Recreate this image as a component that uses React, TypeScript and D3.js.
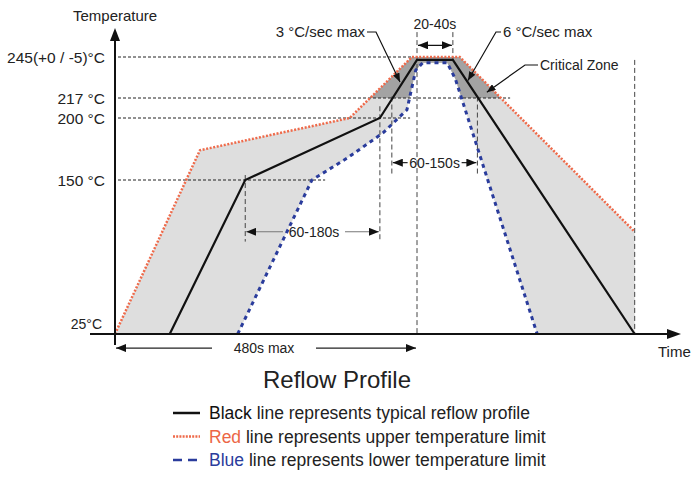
import React from 'react';
import * as d3 from 'd3';

const W = 694;
const H = 477;
const FONT = '"Liberation Sans", Arial, Helvetica, sans-serif';

// y axis levels (°C) and their labels
const tempTicks = [245, 217, 200, 150, 25];
const tempLabels = ['245(+0 / -5)°C', '217 °C', '200 °C', '150 °C', '25°C'];

// profiles: time (s) / temperature (°C)
const typicalTime = [87, 207, 421, 480, 537, 826];
const typicalTemp = [25, 150, 200, 243, 243, 25];
const upperTime = [0, 135, 373, 472, 548, 826];
const upperTemp = [25, 174, 200, 245, 245, 108];
const lowerTime = [195, 313, 370, 426, 464, 478, 489, 528, 541, 671];
const lowerTemp = [25, 150, 168, 188, 207, 236, 241, 241, 230, 25];

// dashed guides
const hGuideTemp = [245, 217, 200, 150];
const hGuideEnd = [472, 628, 469, 334];
const vGuideTime = [207, 421, 440, 576, 480, 537, 826];
const vGuideTop = [154, 210, 218, 218, 262, 262, 243];
const vGuideBottom = [100, 100, 154, 154, 25, 243, 25];

// time span arrows
const spanLabels = ['20-40s', '60-150s', '60-180s', '480s max'];
const spanStart = [480, 440, 207, 0];
const spanEnd = [537, 576, 421, 480];
const spanTemp = [253, 164, 108, 13.6];

const legendItems = [
  { key: 'Black', rest: ' line represents typical reflow profile', color: '#111' },
  { key: 'Red', rest: ' line represents upper temperature limit', color: '#ec6646' },
  { key: 'Blue', rest: ' line represents lower temperature limit', color: '#2a3c9c' },
];

const RED = '#ef6a4a';
const BLUE = '#2a3c9c';

type P = [number, number];
const zip = (a: number[], b: number[]): P[] => a.map((v, i) => [v, b[i]]);

export default function App() {
  const x = d3.scaleLinear().domain([0, 480]).range([115, 417]);
  const y = d3.scaleLinear().domain([25, 150, 200, 217, 245]).range([334, 180, 118, 98, 57]);

  const line = d3.line<P>().x(d => x(d[0])).y(d => y(d[1]));

  const typical = zip(typicalTime, typicalTemp);
  const upper = zip(upperTime, upperTemp);
  const lower = zip(lowerTime, lowerTemp);

  // band between the limits, closed down the right edge
  const band: P[] = [...upper, [upperTime[upperTime.length - 1], 25], ...[...lower].reverse()];
  const bandPath = line(band) + 'Z';

  const txt = { fontFamily: FONT, fill: '#222' } as const;

  const spans = spanLabels.map((label, i) => {
    const x0 = x(spanStart[i]);
    const x1 = x(spanEnd[i]);
    const yy = y(spanTemp[i]);
    const cx = (x0 + x1) / 2;
    if (i === 0) {
      return (
        <g key={label}>
          <line x1={x0 + 1} x2={x1 - 1} y1={yy} y2={yy} stroke="#111" strokeWidth={1.2}
            markerStart="url(#arr)" markerEnd="url(#arr)" />
          <text x={cx} y={yy - 16} textAnchor="middle" fontSize={14} {...txt}>{label}</text>
        </g>
      );
    }
    const gap = i === 3 ? 52 : i === 2 ? 31 : 27;
    const tx = i === 3 ? 264 : i === 2 ? 314 : cx;
    const shaft = i === 2 ? '#777' : '#222';
    return (
      <g key={label}>
        <line x1={x0 + 1} x2={tx - gap} y1={yy} y2={yy} stroke={shaft} strokeWidth={1.2} markerStart="url(#arr)" />
        <line x1={tx + gap} x2={x1 - 1} y1={yy} y2={yy} stroke={shaft} strokeWidth={1.2} markerEnd="url(#arr)" />
        <text x={tx} y={yy} dy="0.36em" textAnchor="middle" fontSize={14} {...txt}>{label}</text>
      </g>
    );
  });

  // callouts: tips sit on the profile
  const tip1: P = [x(453), y(228)];
  const tip2: P = [x(561), y(229)];
  const tip3: P = [x(591), y(221)];

  return (
    <svg width={W} height={H} style={{ position: 'absolute', left: 0, top: 0, background: '#fff' }}>
      <defs>
        <marker id="arr" viewBox="0 0 10 8" refX={10} refY={4} markerWidth={10} markerHeight={8}
          markerUnits="userSpaceOnUse" orient="auto-start-reverse">
          <path d="M0,0L10,4L0,8Z" fill="#111" />
        </marker>
        <marker id="arrs" viewBox="0 0 10 8" refX={10} refY={4} markerWidth={9} markerHeight={7}
          markerUnits="userSpaceOnUse" orient="auto">
          <path d="M0,0L10,4L0,8Z" fill="#111" />
        </marker>
        <clipPath id="crit">
          <rect x={0} y={0} width={W} height={y(217)} />
        </clipPath>
      </defs>

      {/* limit band and critical zone */}
      <path d={bandPath} fill="#dedede" />
      <path d={bandPath} fill="#a3a3a3" clipPath="url(#crit)" />

      {/* dashed guides */}
      {hGuideTemp.map((t, i) => (
        <line key={'h' + t} x1={x(0) + 3} x2={x(hGuideEnd[i])} y1={y(t)} y2={y(t)}
          stroke="#222" strokeWidth={1} strokeDasharray="3,2" />
      ))}
      {vGuideTime.map((t, i) => (
        <line key={'v' + i} x1={x(t)} x2={x(t)} y1={y(vGuideTop[i])} y2={y(vGuideBottom[i])}
          stroke="#444" strokeWidth={1} strokeDasharray="5,3" />
      ))}

      {/* profiles */}
      <path d={line(upper) || ''} fill="none" stroke={RED} strokeWidth={2.5} strokeDasharray="2,1.6" />
      <path d={line(lower) || ''} fill="none" stroke={BLUE} strokeWidth={3} strokeDasharray="4,4" />
      <path d={line(typical) || ''} fill="none" stroke="#111" strokeWidth={2.2} />

      {/* axes */}
      <line x1={x(0)} x2={x(0)} y1={345} y2={40} stroke="#111" strokeWidth={2} />
      <path d={`M${x(0) - 5},41L${x(0)},28L${x(0) + 5},41Z`} fill="#111" />
      <line x1={90} x2={668} y1={y(25)} y2={y(25)} stroke="#111" strokeWidth={2} />
      <path d={`M667,${y(25) - 5}L681,${y(25)}L667,${y(25) + 5}Z`} fill="#111" />

      <text x={73} y={21} fontSize={15} {...txt}>Temperature</text>
      <text x={658} y={357} fontSize={15} {...txt}>Time</text>

      {tempTicks.map((t, i) => (
        <text key={t} x={i === 4 ? 102 : 105} y={i === 4 ? y(t) - 10 : y(t)} dy="0.36em"
          textAnchor="end" fontSize={i === 4 ? 14 : 15.5} {...txt}>{tempLabels[i]}</text>
      ))}

      {spans}

      {/* callouts */}
      <text x={365} y={37} textAnchor="end" fontSize={15} {...txt}>3 °C/sec max</text>
      <polyline points={`367,32 376,32 ${tip1[0]},${tip1[1]}`} fill="none" stroke="#111" strokeWidth={1.2}
        markerEnd="url(#arrs)" />
      <text x={503} y={37} fontSize={15} {...txt}>6 °C/sec max</text>
      <polyline points={`501,32 496,32 ${tip2[0]},${tip2[1]}`} fill="none" stroke="#111" strokeWidth={1.2}
        markerEnd="url(#arrs)" />
      <text x={540} y={70} fontSize={14} {...txt}>Critical Zone</text>
      <polyline points={`538,65 525,65 ${tip3[0]},${tip3[1]}`} fill="none" stroke="#111" strokeWidth={1.2}
        markerEnd="url(#arrs)" />

      {/* title and legend */}
      <text x={337} y={388} textAnchor="middle" fontSize={24} {...txt}>Reflow Profile</text>
      {legendItems.map((d, i) => {
        const ly = 413 + i * 23.5;
        return (
          <g key={d.key}>
            {i === 0 && <line x1={173} x2={200} y1={ly} y2={ly} stroke="#111" strokeWidth={2.5} />}
            {i === 1 && <line x1={173} x2={200} y1={ly} y2={ly} stroke={RED} strokeWidth={2.5} strokeDasharray="2,1.2" />}
            {i === 2 && <line x1={173} x2={200} y1={ly} y2={ly} stroke={BLUE} strokeWidth={2.5} strokeDasharray="9,6" />}
            <text x={209} y={ly} dy="0.36em" fontSize={17.5} {...txt}>
              <tspan fill={d.color}>{d.key}</tspan>
              <tspan>{d.rest}</tspan>
            </text>
          </g>
        );
      })}
    </svg>
  );
}
